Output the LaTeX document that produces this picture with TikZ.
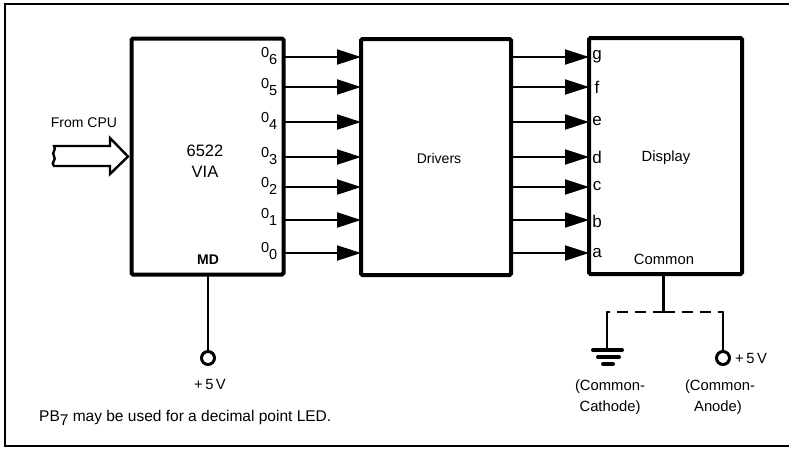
\documentclass[tikz,border=0pt]{standalone}
\usepackage{fontspec}
\setmainfont{Liberation Sans}
\usetikzlibrary{arrows.meta}
\tikzset{
  box/.style={draw,line width=4pt,rounded corners=1.5pt,inner sep=0pt,outer sep=0pt,minimum width=#1,minimum height=236pt},
  pin/.style={line width=2pt,-{Triangle[length=24pt,width=15pt]}},
  wire/.style={line width=2.4pt},
  term/.style={circle,draw,line width=3pt,minimum size=13pt,inner sep=0pt,outer sep=0pt},
  lbl/.style={inner sep=0pt,font=\fontsize{14}{16}\selectfont},
  lbig/.style={inner sep=0pt,font=\fontsize{14.8}{17}\selectfont},
  lhuge/.style={inner sep=0pt,font=\fontsize{16.5}{19}\selectfont},
  plabel/.style={inner sep=0pt,anchor=base east,font=\fontsize{14.5}{16}\selectfont},
  rlabel/.style={inner sep=0pt,anchor=base,font=\fontsize{17}{19}\selectfont},
  gbar/.style={line width=4pt,line cap=round}
}
\newcommand{\psub}[1]{0\raisebox{-7pt}{#1}}
\begin{document}
\begin{tikzpicture}[x=1pt,y=-1pt]
\useasboundingbox (0,0) rectangle (789,448);
\fill[white] (0,0) rectangle (789,448);
% frame
\draw[line width=1.8pt] (789,4) -- (5,4) -- (5,446) -- (789,446);
% boxes
\node[box=152pt] (via) at (207.5,156.5) {};
\node[box=150pt] (drv) at (436,157) {};
\node[box=153pt] (dsp) at (665.5,156) {};
\node[lhuge] (vianame) at (205,151) {6522};
\node[lhuge] (vianame2) at (205,172) {VIA};
\node[lbl,font=\fontsize{14}{16}\selectfont\bfseries] (md) at (208,260) {MD};
\node[lbl] (drvname) at (439,158) {Drivers};
\node[lbig] (dspname) at (666,158) {Display};
\node[lbig] (common) at (664,259) {Common};
% pins
\foreach \i/\y/\ly/\seg/\sy in {6/57/57/g/59,5/87/88/f/93,4/122/122/e/125,3/157/157/d/163,2/187/187/c/190,1/220/218/b/227,0/253/252/a/257}{
  \coordinate (vo\i) at (via.east |- 0,\y);
  \coordinate (di\i) at (drv.west |- 0,\y);
  \coordinate (do\i) at (drv.east |- 0,\y);
  \coordinate (si\i) at (dsp.west |- 0,\y);
  \draw[pin] (vo\i) -- (di\i);
  \draw[pin] (do\i) -- (si\i);
  \node[plabel] (ol\i) at (277.5,\ly) {\psub{\i}};
  \node[rlabel] (sl\i) at (597,\sy) {\seg};
}
% CPU bus
\node[lbl] (cpu) at (84,123) {From CPU};
\draw[line width=2.4pt,line join=miter,fill=white]
  (54,146) -- (110,146) -- (110,138) -- (128,156.5) -- (110,174) -- (110,166) -- (54,166)
  .. controls (50,163) and (57,160) .. (54,156) .. controls (51,152) and (57,150) .. (54,146) -- cycle;
% VIA MD
\node[term] (t1) at (208,358) {};
\coordinate (mdpin) at (t1 |- via.south);
\draw[wire] (mdpin) -- (t1);
\node[lbig] (v1) at (210,384) {+\,5\,V};
\node[inner sep=0pt,anchor=base west,font=\fontsize{15.5}{18}\selectfont] (pb) at (39,421) {PB\raisebox{-4pt}{7} may be used for a decimal point LED.};
% Common
\coordinate (cmpin) at (663.5,276);
\coordinate (cmj) at (663.5,312);
\coordinate (gt) at (607,312);
\coordinate (at) at (723,312);
\coordinate (gb) at (607,350);
\node[term] (t2) at (723,358) {};
\draw[wire] (cmpin) -- (cmj);
\draw[wire,dash pattern=on 11pt off 7pt] (cmj) -- (at);
\draw[wire,dash pattern=on 11pt off 7pt] (cmj) -- (gt);
\draw[wire,line cap=round] (gt) -- (gb);
\draw[wire,line cap=round] (at) -- (t2);
\draw[gbar] (593,350) -- (622,350);
\draw[gbar] (598,357) -- (619,357);
\draw[gbar] (603,364) -- (613,364);
\node[lbig,anchor=west] (v2) at (735,358) {+\,5\,V};
\node[lbig] (c1) at (610,387) {(Common-};
\node[lbig] (c2) at (610,408) {Cathode)};
\node[lbig] (a1) at (720,387) {(Common-};
\node[lbig] (a2) at (718,408) {Anode)};
\end{tikzpicture}
\end{document}
